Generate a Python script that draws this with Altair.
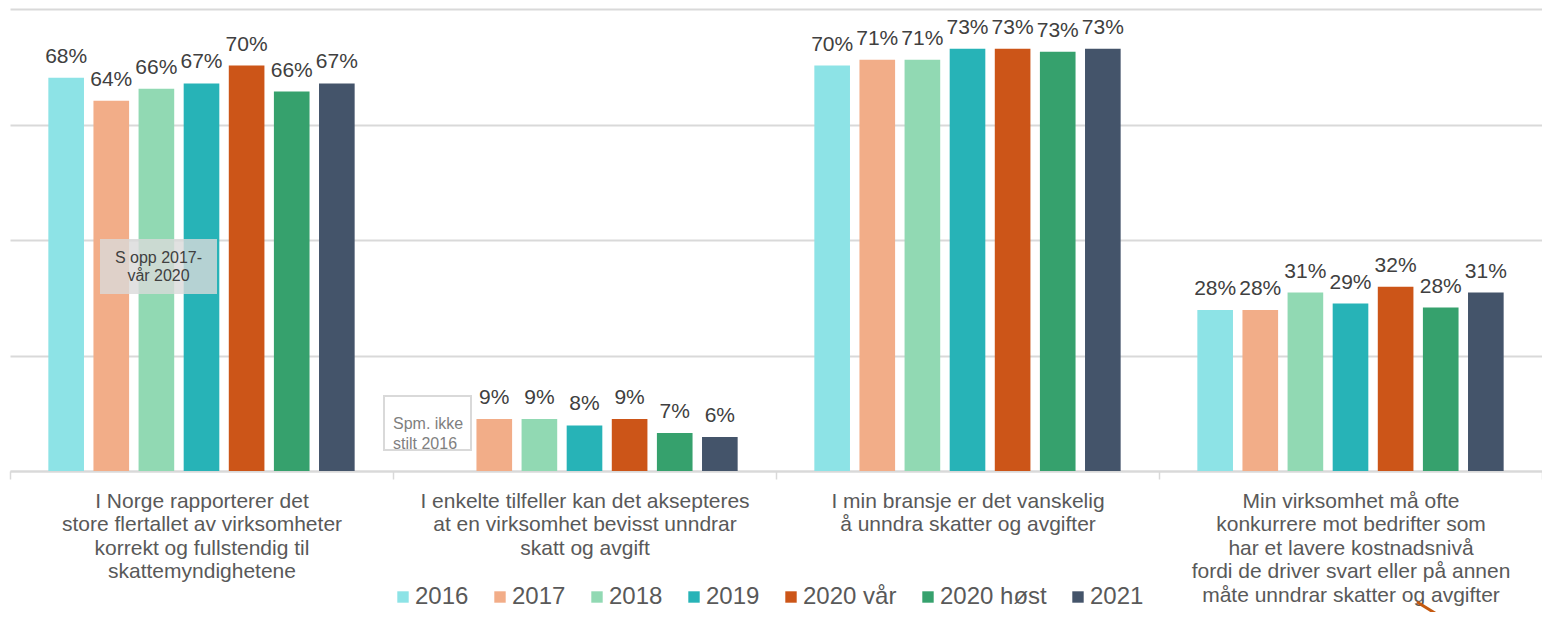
import altair as alt
import pandas as pd

categories = [
    "I Norge rapporterer det|store flertallet av virksomheter|korrekt og fullstendig til|skattemyndighetene",
    "I enkelte tilfeller kan det aksepteres|at en virksomhet bevisst unndrar|skatt og avgift",
    "I min bransje er det vanskelig|å unndra skatter og avgifter",
    "Min virksomhet må ofte|konkurrere mot bedrifter som|har et lavere kostnadsnivå|fordi de driver svart eller på annen|måte unndrar skatter og avgifter",
]
years = ["2016", "2017", "2018", "2019", "2020 vår", "2020 høst", "2021"]
colors = ["#8de3e6", "#f2ad88", "#91d9b3", "#27b3b7", "#cc5518", "#36a16d", "#44546a"]

vals_cat1 = [68.1, 64.1, 66.2, 67.1, 70.2, 65.7, 67.1]
vals_cat2 = [None, 9.0, 9.0, 7.9, 9.0, 6.6, 5.9]
vals_cat3 = [70.2, 71.2, 71.2, 73.1, 73.1, 72.6, 73.1]
vals_cat4 = [27.9, 27.9, 30.9, 29.0, 31.9, 28.3, 30.9]

rows = []
for cat, vals in zip(categories, [vals_cat1, vals_cat2, vals_cat3, vals_cat4]):
    for y, v in zip(years, vals):
        if v is not None:
            rows.append({"category": cat, "year": y, "value": v})
df = pd.DataFrame(rows)

FONT = "Liberation Sans"

x_enc = alt.X(
    "category:N",
    sort=categories,
    scale=alt.Scale(paddingInner=0, paddingOuter=0),
    axis=alt.Axis(
        title=None, labelAngle=0, labelExpr="split(datum.label, '|')",
        labelFontSize=21, labelColor="#595959", labelFont=FONT,
        labelLineHeight=23.5, labelPadding=11, labelLimit=500,
        labelOverlap=False, labelFlush=False,
        tickBand="extent", tickSize=8, tickColor="#d9d9d9", tickWidth=1.5,
        domainColor="#d9d9d9", domainWidth=2, grid=False,
    ),
)
xoff_enc = alt.XOffset(
    "year:N", sort=years,
    scale=alt.Scale(domain=years, paddingInner=0.21, paddingOuter=0.85),
)
y_enc = alt.Y(
    "value:Q",
    scale=alt.Scale(domain=[0, 80], nice=False),
    axis=alt.Axis(title=None, labels=False, ticks=False, domain=False,
                  values=[0, 20, 40, 60, 80], gridColor="#d9d9d9", gridWidth=2),
)

base = alt.Chart(df)

bars = base.mark_bar().encode(
    x=x_enc, xOffset=xoff_enc, y=y_enc,
    color=alt.Color(
        "year:N", sort=years, title=None,
        scale=alt.Scale(domain=years, range=colors),
        legend=alt.Legend(
            orient="none", legendX=381, legendY=576, direction="horizontal",
            columns=7, symbolType="square", symbolSize=130,
            labelFontSize=24, labelFont=FONT, labelColor="#595959",
            columnPadding=19, labelOffset=0, labelLimit=300,
        ),
    ),
)

labels = base.transform_calculate(
    label="format(datum.value, '.0f') + '%'"
).mark_text(
    dy=-15, baseline="alphabetic", align="center", fontSize=21, font=FONT, color="#404040"
).encode(x=x_enc, xOffset=xoff_enc, y=y_enc, text="label:N")

one = alt.Chart(pd.DataFrame({"a": [0]}))

box1 = one.mark_rect(fill="#d9d9d9", opacity=0.8).encode(
    x=alt.value(90), x2=alt.value(207), y=alt.value(230), y2=alt.value(285)
)
box1_text = one.mark_text(
    lineBreak="\n", lineHeight=18.5, fontSize=16, font=FONT, color="#404040",
    align="center", baseline="middle",
).encode(x=alt.value(148.5), y=alt.value(248.5), text=alt.value("S opp 2017-\nvår 2020"))

box2 = one.mark_rect(fill="white", stroke="#d9d9d9", strokeWidth=2).encode(
    x=alt.value(374), x2=alt.value(461), y=alt.value(387), y2=alt.value(441)
)
box2_text = one.mark_text(
    lineBreak="\n", lineHeight=20, fontSize=16, font=FONT, color="#7f7f7f",
    align="left", baseline="middle",
).encode(x=alt.value(383), y=alt.value(415), text=alt.value("Spm. ikke\nstilt 2016"))

arrow = one.mark_rule(color="#c55a11", strokeWidth=3).encode(
    x=alt.value(1407), x2=alt.value(1441), y=alt.value(593), y2=alt.value(614)
)

chart = alt.layer(bars, labels, box1, box1_text, box2, box2_text, arrow).properties(
    width=1532, height=462,
    padding={"left": 2, "top": 1, "right": 0, "bottom": 141},
    autosize=alt.AutoSizeParams(type="none"),
).configure_view(stroke=None)

chart.save("out.html", embed_options={"renderer": "svg", "actions": False})
